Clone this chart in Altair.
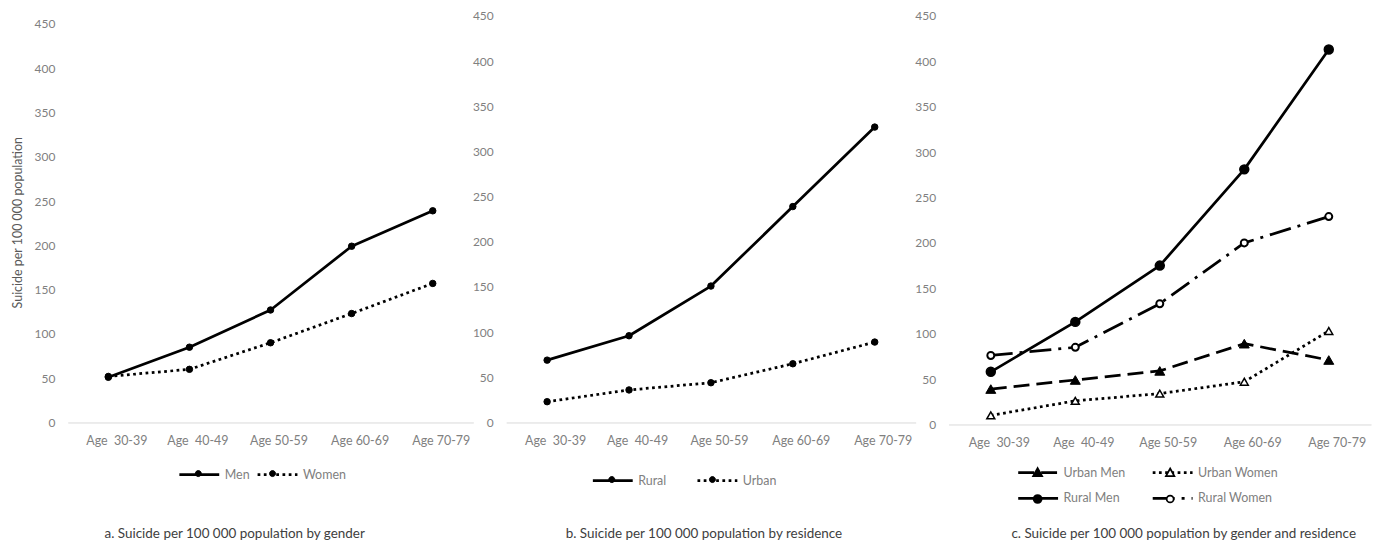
import altair as alt
import pandas as pd

# ---------------- data ----------------
ages = ["Age\u00a0 30-39", "Age\u00a0 40-49", "Age 50-59", "Age 60-69", "Age 70-79"]
y_ticks = [0, 50, 100, 150, 200, 250, 300, 350, 400, 450]

gender_names = ["Men", "Women"]
men = [51, 85, 127, 199, 239]
women = [52, 60, 90, 123, 157]

residence_names = ["Rural", "Urban"]
rural = [69, 96, 151, 239, 327]
urban = [23, 36, 44, 65, 89]

combo_names = ["Urban Men", "Urban Women", "Rural Men", "Rural Women"]
urban_men = [39, 49, 59, 89, 71]
urban_women = [10, 26, 34, 47, 103]
rural_men = [58, 113, 175, 281, 413]
rural_women = [76, 85, 133, 200, 229]

y_title = "Suicide per 100 000 population"
captions = [
    "a. Suicide per 100 000 population by gender",
    "b. Suicide per 100 000 population by residence",
    "c. Suicide per 100 000 population by gender and residence",
]

FONT = "Lato"
LABEL_GRAY = "#808080"
DOT = [2.75, 3.5]
LONG_DASH = [16, 7]
DASH_DOT = [22, 7, 3, 7]
LINE_PATH = "M-2,0L2,0"
EXTENT = "M-2,0M2,0"  # invisible moves: same layout extent as the line symbol


def circle_path(r):
    return EXTENT + f"M{r},0A{r},{r} 0 1,1 -{r},0A{r},{r} 0 1,1 {r},0Z"


def tri_path(w, h):
    return EXTENT + f"M0,-{h * 0.55}L{w},{h * 0.45}L-{w},{h * 0.45}Z"


def long_df(names, series_values):
    rows = []
    for n, vals in zip(names, series_values):
        for a, v in zip(ages, vals):
            rows.append({"series": n, "marker": n + " ", "age": a, "value": v})
    return pd.DataFrame(rows)


def panel(names, values, styles, width, height, y_top, with_title, leg_kw,
          marker_sw, caption, cap_dx, cap_offset):
    df = long_df(names, values)
    base = alt.Chart(df)
    x = alt.X("age:N", sort=ages,
              scale=alt.Scale(type="point", padding=0.5),
              axis=alt.Axis(title=None, labelAngle=0, labelOffset=8,
                            labelPadding=12, ticks=False, tickSize=0,
                            domainColor="#d9d9d9", domainWidth=1, grid=False,
                            labelColor=LABEL_GRAY, labelFontSize=12.5,
                            labelFont=FONT, labelOverlap=False))
    ykw = dict(values=y_ticks, grid=False, domain=False, ticks=False,
               tickSize=0, labelPadding=13, labelColor=LABEL_GRAY,
               labelFontSize=12, labelFont=FONT)
    if with_title:
        ykw.update(title=y_title, titleX=-43, titleY=207,
                   titleBaseline="bottom", titleFontSize=12.5,
                   titleFontWeight="normal", titleColor="#595959",
                   titleFont=FONT)
    else:
        ykw.update(title=None)
    y = alt.Y("value:Q",
              scale=alt.Scale(domain=[0, 450], range=[height, y_top],
                              nice=False, zero=True),
              axis=alt.Axis(**ykw))

    layers = []
    for n in names:
        st = styles[n]
        sub = base.transform_filter(alt.datum.series == n)
        lkw = dict(color="black", strokeWidth=2.75, strokeJoin="round")
        if st["dash"]:
            lkw["strokeDash"] = st["dash"]
        layers.append(sub.mark_line(**lkw).encode(x=x, y=y))
        layers.append(sub.mark_point(shape=st["shape"], filled=True,
                                     fill=st["fill"], stroke="black",
                                     strokeWidth=st["sw"], size=st["size"],
                                     opacity=1).encode(x=x, y=y))

    common = dict(title=None, orient="none", direction="horizontal",
                  symbolSize=400, labelOffset=14, labelFont=FONT,
                  labelFontSize=12.5, padding=0, symbolOpacity=1, **leg_kw)
    # legend 1: line styles
    leg_line = alt.Legend(symbolType=LINE_PATH, symbolStrokeWidth=2.75,
                          symbolStrokeColor="black", labelColor=LABEL_GRAY,
                          zindex=0, **common)
    # legend 2: markers drawn over the lines (labels hidden, same layout)
    leg_mark = alt.Legend(symbolStrokeWidth=marker_sw, labelColor="transparent",
                          labelExpr="trim(datum.label)", zindex=1, **common)
    dom = names
    mdom = [n + " " for n in names]
    empty = base.transform_filter("datum.value < 0")
    line_legend_layer = empty.mark_point(filled=False, color="black",
                                         opacity=1).encode(
        x=x, y=y,
        strokeDash=alt.StrokeDash("series:N", scale=alt.Scale(
            domain=dom, range=[styles[n]["dash"] or [1, 0] for n in dom]),
            legend=leg_line),
    )
    marker_legend_layer = empty.mark_point(filled=True, opacity=1).encode(
        x=x, y=y,
        shape=alt.Shape("marker:N", scale=alt.Scale(
            domain=mdom, range=[styles[n]["lpath"] for n in dom]),
            legend=leg_mark),
        fill=alt.Fill("marker:N", scale=alt.Scale(
            domain=mdom, range=[styles[n]["fill"] for n in dom]),
            legend=leg_mark),
        stroke=alt.Stroke("marker:N", scale=alt.Scale(
            domain=mdom, range=["black"] * len(dom)), legend=leg_mark),
    )
    layers += [line_legend_layer, marker_legend_layer]

    return alt.layer(*layers).properties(
        width=width, height=height,
        title=alt.TitleParams(caption, orient="bottom", anchor="middle",
                              fontSize=13.5, font=FONT, color="#404040",
                              fontWeight="normal", dx=cap_dx,
                              offset=cap_offset),
    )


small_c = circle_path(0.3)
styles_a = {
    "Men": dict(dash=None, shape="circle", fill="black", sw=1, size=42,
                lpath=small_c),
    "Women": dict(dash=DOT, shape="circle", fill="black", sw=1, size=42,
                  lpath=small_c),
}
styles_b = {
    "Rural": dict(dash=None, shape="circle", fill="black", sw=1, size=42,
                  lpath=small_c),
    "Urban": dict(dash=DOT, shape="circle", fill="black", sw=1, size=42,
                  lpath=small_c),
}
styles_c = {
    "Urban Men": dict(dash=LONG_DASH, shape="triangle-up", fill="black",
                      sw=1, size=100, lpath=tri_path(0.45, 0.8)),
    "Urban Women": dict(dash=DOT, shape="triangle-up", fill="white", sw=1.5,
                        size=64, lpath=tri_path(0.42, 0.75)),
    "Rural Men": dict(dash=None, shape="circle", fill="black", sw=1.5,
                      size=81, lpath=circle_path(0.4)),
    "Rural Women": dict(dash=DASH_DOT, shape="circle", fill="white", sw=2,
                        size=49, lpath=circle_path(0.35)),
}

pa = panel(gender_names, [men, women], styles_a, 407, 408, 8, True,
           dict(legendX=120.5, legendY=448.8, columnPadding=2.5), 1,
           captions[0], -36, 46)
pb = panel(residence_names, [rural, urban], styles_b, 411, 408, 0, False,
           dict(legendX=95.5, legendY=454.8, columnPadding=25), 1,
           captions[1], -7, 40)
pc = panel(combo_names, [urban_men, urban_women, rural_men, rural_women],
           styles_c, 424, 410, 0, False,
           dict(legendX=78.4, legendY=446.8, columns=2, columnPadding=22,
                rowPadding=8), 1.75,
           captions[2], 24, 20)

chart = alt.hconcat(pa, pb, pc, spacing=33, bounds="flush").resolve_scale(
    shape="independent", fill="independent", stroke="independent",
    strokeDash="independent"
).resolve_legend(
    shape="independent", fill="independent", stroke="independent",
    strokeDash="independent"
).properties(
    padding={"left": 4, "top": 1, "right": 5, "bottom": 5}
).configure(
    font=FONT, view=alt.ViewConfig(stroke="transparent", strokeWidth=0)
)

chart.save("out.html", embed_options={"renderer": "svg", "actions": False})
